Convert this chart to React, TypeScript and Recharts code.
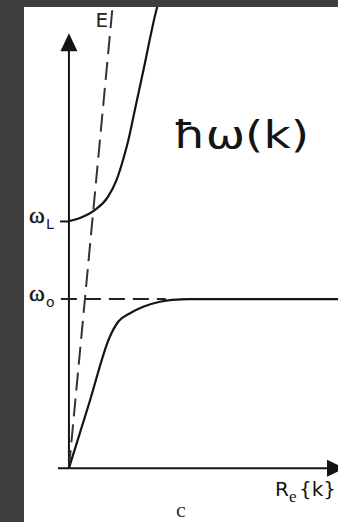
import React from 'react';
import {
  ComposedChart,
  Line,
  XAxis,
  YAxis,
  ReferenceLine,
  ReferenceDot,
  Customized,
} from 'recharts';

// Polariton dispersion, arbitrary units: wave vector k and energy E
const K_DOMAIN: [number, number] = [-1.67, 10];
const E_DOMAIN: [number, number] = [-1.4, 12];

const OMEGA_0 = 4.4; // transverse resonance
const OMEGA_L = 6.42; // longitudinal frequency

// uncoupled photon line E = c k
const photonK = [0, 1.62];
const photonE = [0, 12];

// upper polariton branch
const upperK = [0, 0.41, 0.97, 1.45, 1.77, 2.01, 2.21, 2.45, 2.77, 3.25, 3.28];
const upperE = [6.43, 6.51, 6.72, 7.06, 7.5, 8.02, 8.54, 9.32, 10.36, 11.92, 12.0];

// lower polariton branch
const lowerK = [0, 0.76, 1.52, 1.83, 2.27, 2.76, 3.38, 3.83, 4.5, 10];
const lowerE = [0, 1.71, 3.42, 3.81, 4.03, 4.2, 4.33, 4.38, 4.4, 4.4];

const zip = (ks: number[], es: number[]) => ks.map((k, i) => ({ k, e: es[i] }));

const photonData = zip(photonK, photonE);
const upperData = zip(upperK, upperE);
const lowerData = zip(lowerK, lowerE);

const INK = '#141414';
const SERIF = '"Liberation Serif", "Times New Roman", serif';
const SANS = '"DejaVu Sans", Verdana, sans-serif';

const upArrow = (p: any) => (
  <polygon
    points={`${p.cx},${p.cy} ${p.cx - 8.5},${p.cy + 18} ${p.cx + 8.5},${p.cy + 18}`}
    fill={INK}
  />
);

const rightArrow = (p: any) => (
  <polygon
    points={`${p.cx},${p.cy} ${p.cx - 18},${p.cy - 8.5} ${p.cx - 18},${p.cy + 8.5}`}
    fill={INK}
  />
);

const omegaLabel = (sub: string) => (p: any) => (
  <g>
    <text
      x={p.cx - 40}
      y={p.cy + 2}
      fontFamily={SERIF}
      fontSize={24}
      fill={INK}
      stroke={INK}
      strokeWidth={0.4}
    >
      ω
    </text>
    <text x={p.cx - 23} y={p.cy + 8} fontFamily={SANS} fontSize={14} fill={INK}>
      {sub}
    </text>
  </g>
);

const photonLabel = (p: any) => (
  <text x={p.cx - 17} y={p.cy + 20} fontFamily={SANS} fontSize={20} fill="#222">
    E
  </text>
);

const FreeText = () => (
  <g>
    <text
      x={173}
      y={148}
      fontFamily={SANS}
      fontSize={37}
      fill={INK}
      textLength={136}
      lengthAdjust="spacingAndGlyphs"
    >
      ħω(k)
    </text>
    <text x={275} y={496} fontFamily={SANS} fontSize={20} fill={INK}>
      R
    </text>
    <text x={289} y={502} fontFamily={SERIF} fontSize={17} fill={INK}>
      e
    </text>
    <text x={299} y={496} fontFamily={SANS} fontSize={20} fill={INK}>
      {'{k}'}
    </text>
    <text x={176} y={517} fontFamily={SERIF} fontSize={22} fill="#333">
      c
    </text>
  </g>
);

export default function App() {
  return (
    <div
      style={{
        position: 'absolute',
        left: 0,
        top: 0,
        width: 338,
        height: 522,
        background: '#3d3d3d',
        overflow: 'hidden',
      }}
    >
      <div
        style={{
          position: 'absolute',
          left: 24,
          top: 7,
          width: 314,
          height: 515,
          background: '#ffffff',
        }}
      />
      <div style={{ position: 'absolute', left: 0, top: 0 }}>
        <ComposedChart
          width={338}
          height={522}
          margin={{ top: 7, left: 24, right: 0, bottom: 0 }}
        >
          <XAxis type="number" dataKey="k" domain={K_DOMAIN} allowDataOverflow hide />
          <YAxis type="number" dataKey="e" domain={E_DOMAIN} allowDataOverflow hide />

          {/* axes with arrowheads */}
          <ReferenceLine
            segment={[{ x: 0, y: 0 }, { x: 0, y: 11.0 }]}
            stroke={INK}
            strokeWidth={2}
            ifOverflow="visible"
          />
          <ReferenceLine
            segment={[{ x: -0.41, y: 0 }, { x: 10, y: 0 }]}
            stroke={INK}
            strokeWidth={2}
            ifOverflow="visible"
          />
          <ReferenceDot x={0} y={11.32} r={1} shape={upArrow} ifOverflow="visible" />
          <ReferenceDot x={10.26} y={0} r={1} shape={rightArrow} ifOverflow="visible" />

          {/* resonance markers */}
          <ReferenceLine
            segment={[{ x: -0.3, y: OMEGA_0 }, { x: 3.6, y: OMEGA_0 }]}
            stroke="#222"
            strokeWidth={2}
            strokeDasharray="16 8"
          />
          <ReferenceLine
            segment={[{ x: -0.33, y: OMEGA_L }, { x: 0, y: OMEGA_L }]}
            stroke={INK}
            strokeWidth={2}
          />
          <ReferenceDot x={0} y={OMEGA_L} r={1} shape={omegaLabel('L')} />
          <ReferenceDot x={0} y={OMEGA_0} r={1} shape={omegaLabel('o')} />

          <Line
            data={photonData}
            dataKey="e"
            type="linear"
            stroke="#333"
            strokeWidth={2}
            strokeDasharray="18 8"
            dot={false}
            isAnimationActive={false}
          />
          <Line
            data={upperData}
            dataKey="e"
            type="monotone"
            stroke={INK}
            strokeWidth={2.2}
            dot={false}
            isAnimationActive={false}
          />
          <Line
            data={lowerData}
            dataKey="e"
            type="monotone"
            stroke={INK}
            strokeWidth={2.2}
            dot={false}
            isAnimationActive={false}
          />
          <ReferenceDot x={photonK[1]} y={photonE[1]} r={1} shape={photonLabel} ifOverflow="visible" />
          <Customized component={FreeText} />
        </ComposedChart>
      </div>
    </div>
  );
}
